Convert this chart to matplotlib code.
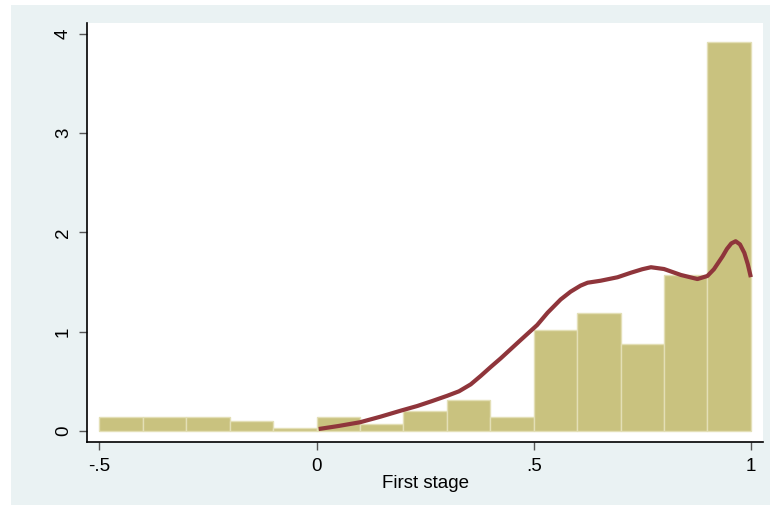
import matplotlib.pyplot as plt
from matplotlib.patches import Rectangle
import numpy as np

plt.rcParams['font.family'] = ['Liberation Sans', 'DejaVu Sans']

# histogram: bin left edges (width 0.1) and densities
bin_edges = [-0.5, -0.4, -0.3, -0.2, -0.1, 0.0, 0.1, 0.2, 0.3, 0.4,
             0.5, 0.6, 0.7, 0.8, 0.9]
bin_width = 0.1
density = [0.138, 0.138, 0.138, 0.104, 0.033, 0.138, 0.070, 0.205, 0.313, 0.138,
           1.017, 1.190, 0.875, 1.575, 3.920]

# kernel density curve
kde_x = [0.005, 0.05, 0.10, 0.147, 0.194, 0.232, 0.265, 0.301, 0.328, 0.355,
         0.378, 0.401, 0.424, 0.470, 0.508, 0.532, 0.562, 0.585, 0.608, 0.624,
         0.654, 0.693, 0.724, 0.750, 0.770, 0.800, 0.839, 0.877, 0.900, 0.915,
         0.935, 0.945, 0.955, 0.965, 0.975, 0.985, 0.993, 1.000]
kde_y = [0.020, 0.050, 0.088, 0.144, 0.205, 0.252, 0.300, 0.355, 0.400, 0.470,
         0.555, 0.645, 0.732, 0.917, 1.068, 1.192, 1.325, 1.404, 1.465, 1.494,
         1.514, 1.549, 1.595, 1.630, 1.650, 1.632, 1.572, 1.531, 1.562, 1.630,
         1.760, 1.835, 1.890, 1.912, 1.880, 1.795, 1.680, 1.550]

xticks = [-0.5, 0, 0.5, 1]
xtick_labels = ['-.5', '0', '.5', '1']
yticks = [0, 1, 2, 3, 4]

bg = '#EAF2F3'
bar_color = '#C9C27F'
line_color = '#8F353B'

fig = plt.figure(figsize=(7.7, 5.05), dpi=100)
fig.patch.set_facecolor('white')
fig.add_artist(Rectangle((11 / 770, 0), 1 - 11 / 770, 1 - 5 / 505,
                         transform=fig.transFigure, facecolor=bg,
                         edgecolor='none', zorder=-5))

ax = fig.add_axes([87.3 / 770, 1 - 442.3 / 505, (763 - 87.3) / 770, (442.3 - 22.7) / 505])
ax.set_zorder(1)
ax.set_facecolor('white')

ax.bar(bin_edges, density, width=bin_width, align='edge', color=bar_color,
       edgecolor='#E3DFB6', linewidth=1.0, zorder=2)
ax.plot(kde_x, kde_y, color=line_color, linewidth=3.0, solid_joinstyle='round',
        solid_capstyle='butt', zorder=3)

ax.set_xlim(-0.528, 1.028)
ax.set_ylim(-0.114, 4.114)
ax.set_xticks(xticks)
ax.set_xticklabels(xtick_labels)
ax.set_yticks(yticks)
ax.set_yticklabels([str(v) for v in yticks], rotation=90, va='center')

for side in ['top', 'right']:
    ax.spines[side].set_visible(False)
for side in ['left', 'bottom']:
    ax.spines[side].set_color('black')
    ax.spines[side].set_linewidth(1.2)

ax.tick_params(axis='both', direction='out', length=6, width=1.0, color='#555555',
               labelsize=13.5, labelcolor='black')
ax.tick_params(axis='y', pad=5)
ax.tick_params(axis='x', pad=5)
ax.set_xlabel('First stage', fontsize=13.5, labelpad=0)

fig.savefig('out.png', dpi=100, facecolor=fig.get_facecolor())
